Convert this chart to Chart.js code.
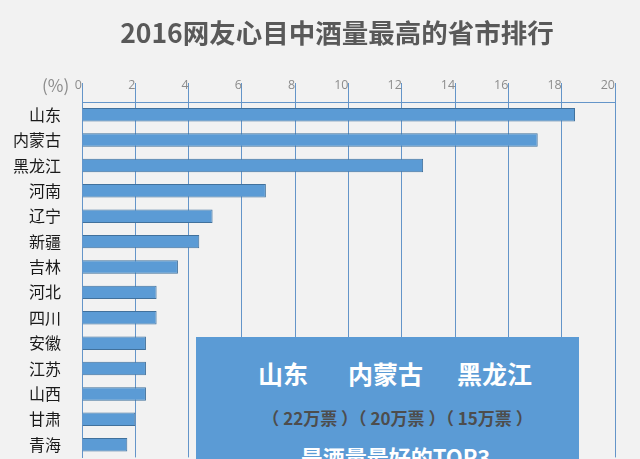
<!DOCTYPE html>
<html>
<head>
<meta charset="utf-8">
<script src="https://cdn.jsdelivr.net/npm/chart.js@4"></script>
<style>
  html, body { margin:0; padding:0; background:#f2f2f2; overflow:hidden; width:640px; height:459px; }
  body { position:relative; font-family:"Noto Sans CJK SC", "Noto Sans", sans-serif; }
  #wrap { position:absolute; left:0; top:0; width:640px; height:480px; }
  #title { position:absolute; left:17px; top:13px; width:640px; text-align:center; font-size:26.5px; font-weight:bold; color:#595959; line-height:38px; }
  #unit { position:absolute; left:42px; top:73px; font-size:17px; color:#8c8c8c; line-height:24px; }
  #box { position:absolute; left:196px; top:337px; width:383px; height:140px; background:#5b9bd5; }
  #box .l1 { position:absolute; left:62px; top:19px; font-size:25px; font-weight:bold; color:#fff; line-height:34px; white-space:nowrap; }
  #box .l1 span { display:inline-block; }
  #box .l2 { position:absolute; left:0; width:100%; top:68px; text-align:center; padding-left:20px; box-sizing:border-box; font-size:17px; font-weight:bold; color:#4d4d4d; line-height:26px; white-space:nowrap; }
  #box .l3 { position:absolute; left:0; width:100%; top:103px; text-align:center; padding-left:16px; box-sizing:border-box; font-size:22px; font-weight:bold; color:#fff; line-height:32px; }
</style>
</head>
<body>
<div id="wrap"><canvas id="chart"></canvas></div>
<div id="title">2016网友心目中酒量最高的省市排行</div>
<div id="unit">(%)</div>
<div id="box">
  <div class="l1"><span style="margin-right:40px">山东</span><span style="margin-right:34px">内蒙古</span><span>黑龙江</span></div>
  <div class="l2">（ 22万票 ）（ 20万票 ）（ 15万票 ）</div>
  <div class="l3">是酒量最好的TOP3</div>
</div>
<script>
const provinces = ['山东','内蒙古','黑龙江','河南','辽宁','新疆','吉林','河北','四川','安徽','江苏','山西','甘肃','青海'];
const percents = [18.5, 17.1, 12.8, 6.9, 4.9, 4.4, 3.6, 2.8, 2.8, 2.4, 2.4, 2.4, 2.0, 1.7];

const gridBlue = '#6495c9';

new Chart(document.getElementById('chart'), {
  type: 'bar',
  data: {
    labels: provinces,
    datasets: [{
      data: percents,
      backgroundColor: '#5b9bd5',
      borderColor: '#41719c',
      borderWidth: 1,
      barPercentage: 0.53,
      categoryPercentage: 1
    }]
  },
  options: {
    indexAxis: 'y',
    responsive: true,
    maintainAspectRatio: false,
    animation: false,
    layout: { padding: { left: 0, right: 25, top: 72, bottom: 10 } },
    plugins: { legend: { display: false }, tooltip: { enabled: false } },
    scales: {
      x: {
        position: 'top',
        min: 0, max: 20,
        afterFit: s => { s.height = 30; },
        grid: { color: gridBlue, lineWidth: 1, tickLength: 19, tickColor: gridBlue },
        border: { color: gridBlue },
        ticks: {
          stepSize: 2, autoSkip: false, maxRotation: 0, minRotation: 0,
          align: 'end', padding: -10, color: '#8c8c8c',
          font: { family: 'Open Sans', size: 12.5 }
        }
      },
      y: {
        afterFit: s => { s.width = 82; },
        grid: { display: false },
        border: { color: gridBlue },
        ticks: { color: '#1a1a1a', padding: 13, font: { family: 'Noto Sans CJK SC', size: 16 } }
      }
    }
  }
});
</script>
</body>
</html>
